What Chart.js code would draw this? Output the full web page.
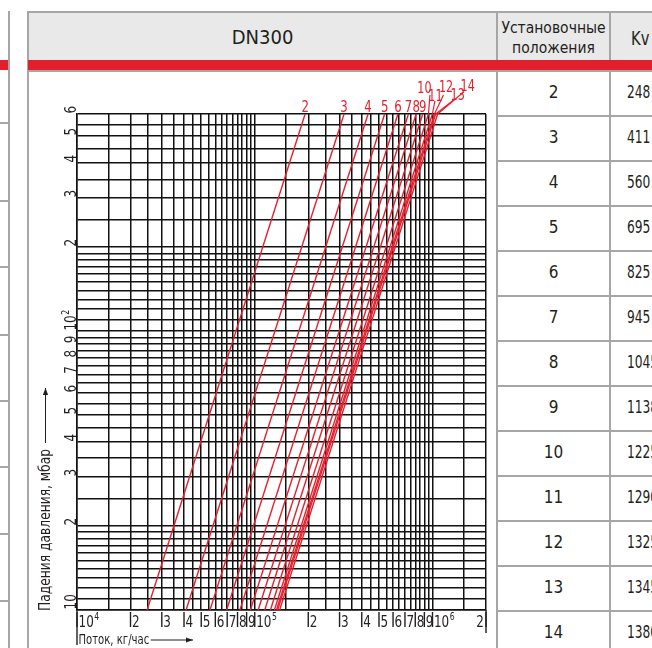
<!DOCTYPE html>
<html><head><meta charset="utf-8">
<script src="https://cdn.jsdelivr.net/npm/chart.js@4.4.0/dist/chart.umd.min.js"></script>
<style>
html,body{margin:0;padding:0;background:#fff;}
body{width:652px;height:648px;position:relative;overflow:hidden;font-family:"Liberation Sans Narrow","DejaVu Sans Condensed","Roboto Condensed",sans-serif;color:#231f20;}
.ln{position:absolute;background:#a6a6a6;}
.tx{position:absolute;white-space:nowrap;line-height:1;}
.nar{transform:scaleX(0.86);transform-origin:0 0;}
.nar2{transform:scaleX(0.8);transform-origin:0 0;}
#c{position:absolute;left:0;top:0;pointer-events:none;}
</style></head><body>
<div class="ln" style="left:28px;top:12px;width:624px;height:48px;background:#e9e9e9"></div>
<div class="ln" style="left:28px;top:11px;width:624px;height:1.5px"></div>
<div class="ln" style="left:27px;top:11px;width:1.5px;height:637px"></div>
<div class="ln" style="left:496px;top:11px;width:1.5px;height:637px"></div>
<div class="ln" style="left:609px;top:11px;width:1.5px;height:637px"></div>
<div class="ln" style="left:28px;top:60px;width:624px;height:10px;background:#e31e2d"></div>
<div class="ln" style="left:28px;top:70px;width:624px;height:1.5px"></div>
<div class="ln" style="left:8px;top:11px;width:1.5px;height:637px"></div>
<div class="ln" style="left:0px;top:60px;width:8px;height:10px;background:#e31e2d"></div>
<div class="tx" style="left:28px;width:469px;top:27px;text-align:center;font-size:20px">DN300</div>
<div class="tx" style="left:497px;width:113px;top:18px;text-align:center;font-size:15.5px;line-height:20px">Установочные<br>положения</div>
<div class="tx nar" style="left:631px;top:29px;font-size:19px">Kv</div>
<div id="rows"></div>
<canvas id="c" width="652" height="648"></canvas>
<script>
// ---- data ----
const settings = [2,3,4,5,6,7,8,9,10,11,12,13,14];
const kvValues = [248,411,560,695,825,945,1045,1138,1225,1290,1325,1345,1380];
// flow (kg/h) where each setting line meets 10 mbar and 600 mbar
const flowAt10 = [24800,41100,56000,69500,82500,94500,104500,113800,122500,129000,132500,134500,138000];
const flowAt600 = [192000,318000,434000,538000,639000,732000,809000,881000,949000,999000,1026000,1042000,1069000];
const dpBottom = 10, dpTop = 600;
const xGrid = [10000,15000,20000,25000,30000,35000,40000,45000,50000,55000,60000,65000,70000,75000,80000,85000,90000,95000,
  100000,150000,200000,250000,300000,350000,400000,450000,500000,550000,600000,650000,700000,750000,800000,850000,900000,950000,
  1000000,1500000,2000000];
const yGrid = [10,11,12,13,14,15,16,17,18,19,20,25,30,35,40,45,50,55,60,65,70,75,80,85,90,95,
  100,110,120,130,140,150,160,170,180,190,200,250,300,350,400,450,500,550,600];
const xTickValues = [10000,20000,30000,40000,50000,60000,70000,80000,90000,100000,200000,300000,400000,500000,600000,700000,800000,900000,1000000,2000000];
const xTickLabels = ['10^4','2','3','4','5','6','7','8','9','10^5','2','3','4','5','6','7','8','9','10^6','2'];
const yTickValues = [10,20,30,40,50,60,70,80,90,100,200,300,400,500,600];
const yTickLabels = ['10','2','3','4','5','6','7','8','9','10^2','2','3','4','5','6'];
const xTitle = 'Поток, кг/час';
const yTitle = 'Падения давления, мбар';

// ---- table rows ----
const rowsEl = document.getElementById('rows');
settings.forEach((s,i)=>{
  const top = 70 + i*45;
  const line = document.createElement('div');
  line.className='ln'; line.style.cssText=`left:497px;top:${top+45}px;width:155px;height:1.5px`;
  rowsEl.appendChild(line);
  const a = document.createElement('div');
  a.className='tx'; a.style.cssText=`left:497px;width:113px;text-align:center;top:${top+14}px;font-size:17px`;
  a.textContent = s; rowsEl.appendChild(a);
  const b = document.createElement('div');
  b.className='tx nar2'; b.style.cssText=`left:627px;top:${top+14}px;font-size:17px`;
  b.textContent = kvValues[i]; rowsEl.appendChild(b);
});
[122,200,266,334,400,466,533,600].forEach(yy=>{
  const d=document.createElement('div'); d.className='ln';
  d.style.cssText=`left:0;top:${yy}px;width:9px;height:1.5px`; rowsEl.appendChild(d);
});

// ---- chart ----
const FONT = '"Liberation Sans Narrow","DejaVu Sans Condensed","Roboto Condensed",sans-serif';
const RED = '#e5202d';
const INK = '#231f20';
// label placement for crowded settings 10..14 (pixel offsets from line top): leader end dx,dy ; label centre dx, baseline dy
const crowd = {10:[1.5,-19,-4,-21],11:[2.5,-13,3,-13],12:[9,-19,11.5,-22],13:[18,-14,22,-14],14:[26,-22,30,-23]};

function measureLabel(ctx, t, size, sx){
  const [base, exp] = t.split('^');
  ctx.font = `${size}px ${FONT}`; let w = ctx.measureText(base).width;
  if (exp){ ctx.font = `${Math.round(size*0.62)}px ${FONT}`; w += ctx.measureText(exp).width + 0.5; }
  return w*sx;
}
function drawLabel(ctx, t, x, y, size, sx){
  const [base, exp] = t.split('^');
  ctx.save(); ctx.translate(x,y); ctx.scale(sx,1);
  ctx.textAlign='left'; ctx.textBaseline='alphabetic';
  ctx.font = `${size}px ${FONT}`; ctx.fillText(base, 0, 0);
  if (exp){
    const w = ctx.measureText(base).width;
    ctx.font = `${Math.round(size*0.62)}px ${FONT}`; ctx.fillText(exp, w+0.5, -size*0.42);
  }
  ctx.restore();
}
function drawText(ctx, t, x, y, size, sx, align){
  ctx.save(); ctx.translate(x,y); ctx.scale(sx,1);
  ctx.textAlign=align; ctx.textBaseline='alphabetic';
  ctx.font = `${size}px ${FONT}`; ctx.fillText(t, 0, 0);
  const w = ctx.measureText(t).width*sx;
  ctx.restore();
  return w;
}
function arrow(ctx, x1, y1, x2, y2){
  ctx.beginPath(); ctx.moveTo(x1,y1); ctx.lineTo(x2,y2); ctx.stroke();
  const ang = Math.atan2(y2-y1, x2-x1), L=7, W=2.6;
  ctx.beginPath();
  ctx.moveTo(x2,y2);
  ctx.lineTo(x2 - L*Math.cos(ang) + W*Math.sin(ang), y2 - L*Math.sin(ang) - W*Math.cos(ang));
  ctx.lineTo(x2 - L*Math.cos(ang) - W*Math.sin(ang), y2 - L*Math.sin(ang) + W*Math.cos(ang));
  ctx.closePath(); ctx.fill();
}

const annot = {
  id:'annot',
  afterDraw(chart){
    const {ctx, chartArea:ca, scales:{x, y}} = chart;
    ctx.save();
    ctx.strokeStyle = INK; ctx.fillStyle = INK; ctx.lineWidth = 1.4;
    // axis extensions
    ctx.beginPath(); ctx.moveTo(ca.left, ca.bottom); ctx.lineTo(ca.left, ca.bottom+35);
    ctx.moveTo(ca.right, ca.bottom); ctx.lineTo(ca.right, ca.bottom+23); ctx.stroke();
    // x ticks + labels
    xTickValues.forEach((v,i)=>{
      const px = x.getPixelForValue(v);
      ctx.beginPath(); ctx.moveTo(px, ca.bottom+2); ctx.lineTo(px, ca.bottom+17); ctx.stroke();
      const last = i === xTickValues.length-1;
      const w = measureLabel(ctx, xTickLabels[i], 15.5, 0.86);
      drawLabel(ctx, xTickLabels[i], last ? px-2-w : px+1.5, ca.bottom+17, 15.5, 0.86);
    });
    // y labels (rotated)
    yTickValues.forEach((v,i)=>{
      const py = y.getPixelForValue(v);
      ctx.save(); ctx.translate(ca.left-1.5, py); ctx.rotate(-Math.PI/2);
      drawLabel(ctx, yTickLabels[i], 0.5, 0, 15.5, 0.86);
      ctx.restore();
    });
    // x title
    const xtw = drawText(ctx, xTitle, ca.left+1.5, ca.bottom+34, 14, 0.8, 'left');
    ctx.lineWidth = 1;
    arrow(ctx, ca.left+3+xtw, ca.bottom+30, ca.left+116, ca.bottom+30);
    // y title
    ctx.save(); ctx.translate(50, ca.bottom+1); ctx.rotate(-Math.PI/2);
    const ytw = drawText(ctx, yTitle, 0, 0, 15.5, 0.88, 'left');
    arrow(ctx, ytw+6, -4.5, ca.bottom+1-388, -4.5);
    ctx.restore();
    // setting labels
    ctx.fillStyle = RED; ctx.strokeStyle = RED; ctx.lineWidth = 1.2;
    settings.forEach((s,i)=>{
      const meta = chart.getDatasetMeta(i);
      const top = meta.data[1];
      const tx = top.x, ty = top.y;
      const c = crowd[s];
      if (c){
        ctx.beginPath(); ctx.moveTo(tx, ty); ctx.lineTo(tx+c[0], ty+c[1]); ctx.stroke();
        drawText(ctx, String(s), tx+c[2], ty+c[3], 15.5, 0.8, 'center');
      } else {
        drawText(ctx, String(s), tx, ty-2, 15.5, 0.84, 'center');
      }
    });
    ctx.restore();
  }
};

new Chart(document.getElementById('c'), {
  type:'line',
  data:{ datasets: settings.map((s,i)=>({
    label:String(s),
    data:[{x:flowAt10[i], y:dpBottom},{x:flowAt600[i], y:dpTop}],
    borderColor:RED, borderWidth:1.4, pointRadius:0, fill:false, tension:0
  }))},
  options:{
    responsive:false, animation:false, events:[],
    layout:{padding:{left:77, top:114, right:166, bottom:38}},
    plugins:{legend:{display:false}, tooltip:{enabled:false}},
    scales:{
      x:{type:'logarithmic', min:10000, max:2000000,
         afterBuildTicks:(s)=>{ s.ticks = xGrid.map(v=>({value:v})); },
         ticks:{display:false, autoSkip:false},
         grid:{color:'#111', lineWidth:1.5, drawTicks:false},
         border:{display:true, color:'#111', width:1.5}},
      y:{type:'logarithmic', min:10, max:600,
         afterBuildTicks:(s)=>{ s.ticks = yGrid.map(v=>({value:v})); },
         ticks:{display:false, autoSkip:false},
         grid:{color:'#111', lineWidth:1.5, drawTicks:false},
         border:{display:true, color:'#111', width:1.5}}
    }
  },
  plugins:[annot]
});
</script>
</body></html>
